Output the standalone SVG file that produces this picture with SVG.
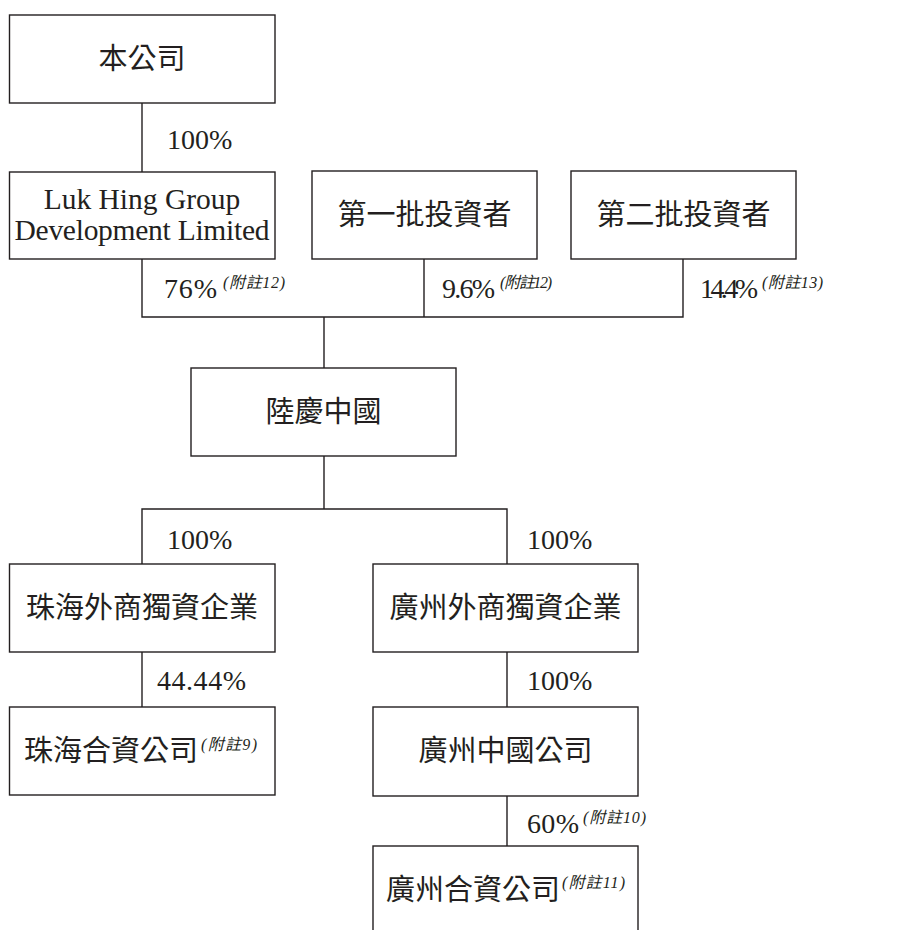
<svg xmlns="http://www.w3.org/2000/svg" width="915" height="930" viewBox="0 0 915 930">
<style>
.box{fill:#fff;stroke:#231f20;stroke-width:1.4}
.ln{fill:none;stroke:#231f20;stroke-width:1.4}
.t{font-family:"Liberation Serif","Noto Sans CJK TC",serif;font-size:29px;fill:#231f20}
.c{text-anchor:middle}
.en{font-family:"Liberation Serif",serif;font-size:29.5px;fill:#231f20}
.p{font-family:"Liberation Serif",serif;font-size:28px;fill:#231f20}
.n{font-family:"Liberation Serif","Noto Sans CJK TC",serif;font-size:16px;font-style:italic;fill:#231f20}
</style>
<rect width="915" height="930" fill="#fff"/>
<g id="connectors">
<path class="ln" d="M142 103V172"/>
<path class="ln" d="M142 259V317H683V259M424 259V317M324 317V368"/>
<path class="ln" d="M324 456V509M142 564V509H507V564"/>
<path class="ln" d="M142 652V707"/>
<path class="ln" d="M507 652V707M507 796V846"/>
</g>
<g id="labels">
<text class="p" x="167" y="149">100%</text>
<text class="p" x="164" y="298" textLength="53">76%</text><text class="n" x="223" y="288" textLength="62">(附註12)</text>
<text class="p" x="442" y="298" textLength="53">9.6%</text><text class="n" x="500" y="288" textLength="52">(附註12)</text>
<text class="p" x="700" y="298" textLength="58">14.4%</text><text class="n" x="762" y="288" textLength="61">(附註13)</text>
<text class="p" x="167" y="549">100%</text>
<text class="p" x="527" y="549">100%</text>
<text class="p" x="157" y="690" textLength="89">44.44%</text>
<text class="p" x="527" y="690">100%</text>
<text class="p" x="527" y="833" textLength="52">60%</text><text class="n" x="583" y="823" textLength="63">(附註10)</text>
</g>
<g id="n-company">
<rect class="box" x="9.5" y="15" width="265.5" height="88"/>
<text class="t c" x="142" y="69">本公司</text>
</g>
<g id="n-lukhing">
<rect class="box" x="9.5" y="172" width="265.5" height="87"/>
<text class="en c" x="142" y="209">Luk Hing Group</text>
<text class="en c" x="142" y="240" textLength="255">Development Limited</text>
</g>
<g id="n-investor1">
<rect class="box" x="312" y="171" width="225" height="88"/>
<text class="t c" x="424.5" y="225">第一批投資者</text>
</g>
<g id="n-investor2">
<rect class="box" x="571" y="171" width="225" height="88"/>
<text class="t c" x="683.5" y="225">第二批投資者</text>
</g>
<g id="n-lukhingchina">
<rect class="box" x="191" y="368" width="265" height="88"/>
<text class="t c" x="323.5" y="422">陸慶中國</text>
</g>
<g id="n-zhuhai-wfoe">
<rect class="box" x="9.5" y="564" width="265.5" height="88"/>
<text class="t c" x="142" y="618">珠海外商獨資企業</text>
</g>
<g id="n-guangzhou-wfoe">
<rect class="box" x="373" y="564" width="265" height="88"/>
<text class="t c" x="505.5" y="618">廣州外商獨資企業</text>
</g>
<g id="n-zhuhai-jv">
<rect class="box" x="9.5" y="707" width="265.5" height="88"/>
<text class="t" x="24" y="761">珠海合資公司</text><text class="n" x="201" y="750" textLength="56">(附註9)</text>
</g>
<g id="n-guangzhou-china">
<rect class="box" x="373" y="707" width="265" height="89"/>
<text class="t c" x="505.5" y="761">廣州中國公司</text>
</g>
<g id="n-guangzhou-jv">
<rect class="box" x="373" y="846" width="265" height="100"/>
<text class="t" x="386" y="900">廣州合資公司</text><text class="n" x="562" y="888" textLength="63">(附註11)</text>
</g>
</svg>
